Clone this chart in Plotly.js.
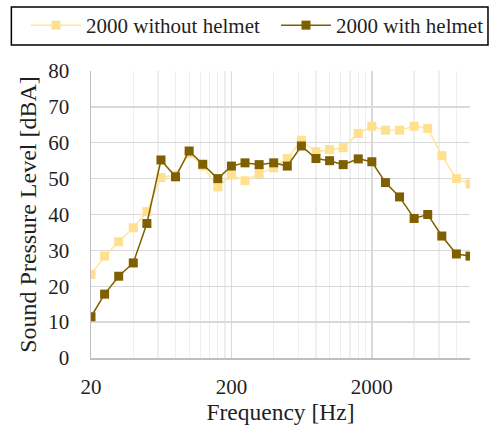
<!DOCTYPE html>
<html>
<head>
<meta charset="utf-8">
<script src="https://cdn.plot.ly/plotly-3.0.1.min.js"></script>
<style>
html,body{margin:0;padding:0;background:#fff;}
#chart{width:489px;height:433px;}
</style>
</head>
<body>
<div id="chart"></div>
<script>
// Third-octave band centre frequencies (Hz)
const frequencies = [20,25,31.5,40,50,63,80,100,125,160,200,250,315,400,500,630,800,1000,1250,1600,2000,2500,3150,4000,5000,6300,8000,10000];
// Sound pressure level [dBA]
const withoutHelmet = [23.3,28.4,32.4,36.3,40.8,50.3,51.0,57.0,53.5,47.7,51.0,49.4,51.4,53.0,55.6,60.7,57.5,58.1,58.6,62.6,64.6,63.5,63.5,64.6,64.0,56.4,50.0,48.5];
const withHelmet    = [11.5,17.8,22.8,26.5,37.5,55.2,50.5,57.7,54.0,50.0,53.5,54.4,53.9,54.4,53.5,59.1,55.6,55.0,53.9,55.5,54.7,48.9,44.9,38.9,40.0,34.0,29.0,28.4];
const seriesNames = ["2000 without helmet","2000 with helmet"];
const xTickVals = [20,200,2000];
const xTickText = ["20","200","2000"];

// minor gridlines at 20*k within each decade (Excel log axis starting at 20)
const minorVals = [];
[20,200,2000].forEach(b => { for (let k=2;k<=9;k++) minorVals.push(b*k); });
minorVals.push(20000);

const serif = "Liberation Serif, Times New Roman, serif";
const light = "#FFE699", dark = "#7F6000";
const txt = "#1f1f1f";

const traces = [
  {x: frequencies, y: withoutHelmet, name: seriesNames[0], type:"scatter", mode:"lines+markers",
   line:{color:light, width:1.5}, marker:{symbol:"square", size:9, color:"#FFE08F"}, legend:"legend"},
  {x: frequencies, y: withHelmet, name: seriesNames[1], type:"scatter", mode:"lines+markers",
   line:{color:dark, width:1.5}, marker:{symbol:"square", size:9, color:dark}, legend:"legend2"}
];

const W = 489, H = 433, L = 90.7, R = 19, T = 71, B = 75;
const pw = W-L-R, ph = H-T-B;
const px2x = p => (p-L)/pw;
const px2y = p => 1-(p-T)/ph;

const legendBase = p => ({orientation:"h", xref:"container", yref:"container",
    x:p/W, xanchor:"left", y:1-25.5/H, yanchor:"middle",
    font:{family:serif, size:21, color:txt}, bgcolor:"rgba(0,0,0,0)", borderwidth:0,
    itemwidth:50, tracegroupgap:0});

const layout = {
  width: W, height: H,
  margin:{l:L, r:R, t:T, b:B, pad:0, autoexpand:false},
  paper_bgcolor:"#fff", plot_bgcolor:"#fff",
  showlegend:true,
  legend: legendBase(26),
  legend2: legendBase(276),
  xaxis:{type:"log", range:[Math.log10(20), Math.log10(10000)],
    tickmode:"array", tickvals:xTickVals, ticktext:xTickText,
    ticks:"outside", ticklen:9, tickcolor:"rgba(0,0,0,0)",
    tickfont:{family:serif, size:21, color:txt},
    showgrid:true, gridcolor:"#D9D9D9", gridwidth:1.3,
    minor:{tickmode:"array", tickvals:minorVals, showgrid:true, gridcolor:"#EEEEEE", gridwidth:1.3, ticks:""},
    showline:true, linecolor:"#BFBFBF", linewidth:1.5, zeroline:false, automargin:false,
    title:{text:"Frequency [Hz]", font:{family:serif, size:23.5, color:txt}, standoff:3}},
  yaxis:{range:[0,80], dtick:10, tick0:0,
    ticks:"outside", ticklen:16, tickcolor:"rgba(0,0,0,0)",
    tickfont:{family:serif, size:21, color:txt},
    showgrid:true, gridcolor:"#D9D9D9", gridwidth:1.3,
    showline:true, linecolor:"#BFBFBF", linewidth:1.5, zeroline:false, automargin:false,
    title:{text:"Sound Pressure Level [dBA]", font:{family:serif, size:24, color:txt}, standoff:5}},
  shapes:[{type:"rect", xref:"paper", yref:"paper",
    x0:px2x(11), x1:px2x(488), y0:px2y(7), y1:px2y(45),
    line:{color:"#000", width:1.5}, fillcolor:"rgba(0,0,0,0)", layer:"above"}]
};

Plotly.newPlot("chart", traces, layout, {displayModeBar:false, staticPlot:true});
</script>
</body>
</html>
